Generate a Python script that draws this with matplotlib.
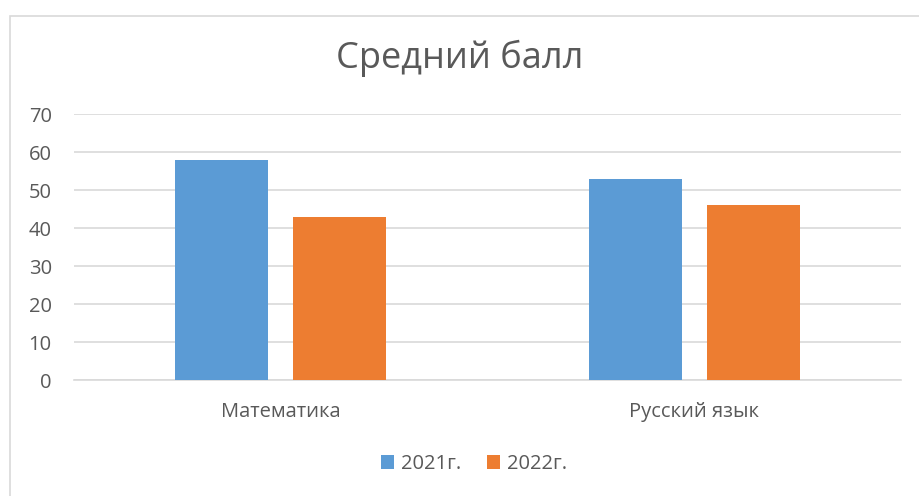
#!/usr/bin/env python3
# Excel-style grouped bar chart: average score per subject, 2021 vs 2022.

import matplotlib
matplotlib.use("Agg")
import matplotlib.pyplot as plt
import numpy as np
from matplotlib.patches import Rectangle

# --- Data ---
SUBJECTS = ["Математика", "Русский язык"]
SERIES = ["2021г.", "2022г."]
VALUES_2021 = [58, 53]
VALUES_2022 = [43, 46]
Y_TICKS = [0, 10, 20, 30, 40, 50, 60, 70]

COLOR_2021 = "#5B9BD5"
COLOR_2022 = "#ED7D31"
TEXT_COLOR = "#595959"
GRID_COLOR = "#D9D9D9"

plt.rcParams["font.family"] = ["Open Sans", "DejaVu Sans"]

fig = plt.figure(figsize=(9.19, 4.96), dpi=100)
ax = fig.add_axes([74 / 919, 1 - 380 / 496, (901 - 74) / 919, (380 - 114) / 496])

x = np.arange(len(SUBJECTS))
width = 0.225
offset = 0.1427

ax.bar(x - offset, VALUES_2021, width, color=COLOR_2021, label=SERIES[0], zorder=3)
ax.bar(x + offset, VALUES_2022, width, color=COLOR_2022, label=SERIES[1], zorder=3)

ax.set_xlim(-0.5, len(SUBJECTS) - 0.5)
ax.set_ylim(0, 70)
ax.set_yticks(Y_TICKS)
ax.set_xticks(x)
ax.set_xticklabels(SUBJECTS)
ax.tick_params(axis="both", length=0, colors=TEXT_COLOR, labelsize=14.5)
ax.tick_params(axis="y", pad=16)
ax.tick_params(axis="x", pad=16)

ax.grid(axis="y", color=GRID_COLOR, linewidth=1.2, zorder=0)
for side in ["top", "right", "left"]:
    ax.spines[side].set_visible(False)
ax.spines["bottom"].set_color(GRID_COLOR)
ax.spines["bottom"].set_linewidth(1.2)

fig.text(0.5, 1 - 58 / 496, "Средний балл", ha="center", va="center",
         fontsize=26, color=TEXT_COLOR)

leg = fig.legend(loc="center", bbox_to_anchor=(474 / 919, 1 - 464 / 496), ncol=2,
                 frameon=False, handlelength=0.65, handleheight=0.65,
                 handletextpad=0.35, columnspacing=1.25, fontsize=14.5)
for t in leg.get_texts():
    t.set_color(TEXT_COLOR)

# Chart area border (left/top visible, rest cropped off)
fig.patches.append(Rectangle((9.5 / 919, -0.1), 1.2, 1 - 15.5 / 496 + 0.1,
                             transform=fig.transFigure, fill=False,
                             edgecolor=GRID_COLOR, linewidth=1.2))

fig.savefig("out.png", dpi=100)
